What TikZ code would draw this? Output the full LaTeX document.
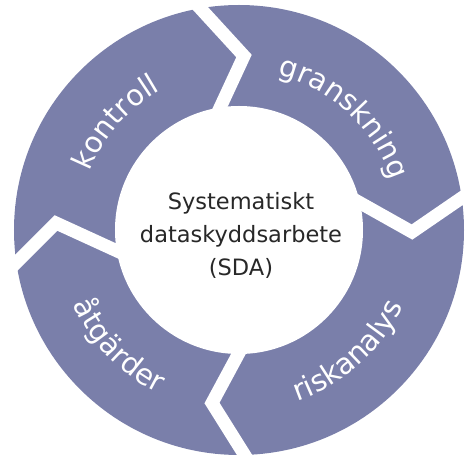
\documentclass[tikz,border=0pt]{standalone}
\usepackage{fontspec}
\setmainfont{DejaVu Sans}
\usetikzlibrary{decorations.text}
\definecolor{ringcol}{RGB}{122,127,170}
\definecolor{txtcol}{RGB}{40,40,40}
\tikzset{
  gapline/.style={draw=white, line width=13pt, line join=miter, miter limit=10},
  toplabel/.style={decorate, decoration={text along path, text align=center,
      text={|\fontsize{29}{29}\selectfont\color{white}|#1}}},
}
\begin{document}
\begin{tikzpicture}[x=1pt,y=1pt]
  \useasboundingbox (-239,-227) rectangle (229,230);
  \fill[ringcol] (0,0) circle[radius=225];
  \fill[white] (0,0) circle[radius=124];
  % gaps
  \draw[gapline] (-50,234) -- (5,174) -- (-27,105);
  \draw[gapline] (240,44) -- (173,-2) -- (100,39);
  \draw[gapline] (8,-108) -- (-27,-173) -- (15,-240);
  \draw[gapline] (-240,-50) -- (-183,7) -- (-100,-31);
  % labels
  \path[toplabel={kontroll}] (179:160) arc[start angle=179, end angle=99, radius=160];
  \path[toplabel={granskning}] (87:160) arc[start angle=87, end angle=7, radius=160];
  \path[toplabel={riskanalys}] (-88:181) arc[start angle=-88, end angle=-8, radius=181];
  \path[toplabel={åtgärder}] (184:182) arc[start angle=184, end angle=264, radius=182];
  \node[text=txtcol, align=center, font=\fontsize{22.5}{33}\selectfont] (center) at (2,-5)
    {Systematiskt\\dataskyddsarbete\\(SDA)};
\end{tikzpicture}
\end{document}
